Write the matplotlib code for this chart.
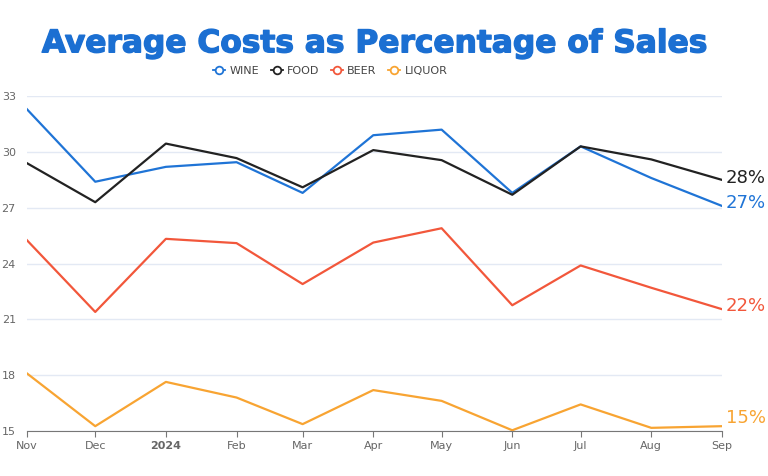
import matplotlib.pyplot as plt
import matplotlib.patheffects as pe
from matplotlib.lines import Line2D
import datetime as dt

# Data
months = [dt.date(2023, 11, 1), dt.date(2023, 12, 1), dt.date(2024, 1, 1),
          dt.date(2024, 2, 1), dt.date(2024, 3, 1), dt.date(2024, 4, 1),
          dt.date(2024, 5, 1), dt.date(2024, 6, 1), dt.date(2024, 7, 1),
          dt.date(2024, 8, 1), dt.date(2024, 9, 1)]
tick_labels = ["Nov", "Dec", "2024", "Feb", "Mar", "Apr", "May", "Jun", "Jul", "Aug", "Sep"]

wine = [32.3, 28.4, 29.2, 29.45, 27.8, 30.9, 31.2, 27.8, 30.3, 28.6, 27.1]
food = [29.4, 27.3, 30.45, 29.67, 28.1, 30.1, 29.56, 27.7, 30.3, 29.6, 28.5]
beer = [25.26, 21.4, 25.33, 25.1, 22.9, 25.13, 25.9, 21.76, 23.9, 22.7, 21.55]
liquor = [18.1, 15.26, 17.64, 16.8, 15.37, 17.2, 16.62, 15.04, 16.43, 15.17, 15.26]

series_names = ["WINE", "FOOD", "BEER", "LIQUOR"]
end_labels = ["27%", "28%", "22%", "15%"]
colors = ["#1f74d6", "#222222", "#f2573b", "#f8a432"]

fig = plt.figure(figsize=(7.68, 4.76), dpi=100)
ax = fig.add_axes([0.035, 0.0945, 0.905, 0.7035])

all_series = [wine, food, beer, liquor]
label_offsets = [2, 1.5, 2, 6]
for vals, c, lab, off in zip(all_series, colors, end_labels, label_offsets):
    ax.plot(months, vals, color=c, lw=1.6)
    ax.annotate(lab, xy=(months[-1], vals[-1]), xytext=(3, off),
                textcoords="offset points", color=c, fontsize=13,
                va="center", ha="left", annotation_clip=False)

ax.set_ylim(15, 33)
ax.set_xlim(months[0], months[-1])
ax.set_yticks([15, 18, 21, 24, 27, 30, 33])
ax.set_xticks(months)
ax.set_xticklabels(tick_labels)
for t in ax.get_xticklabels():
    if t.get_text() == "2024":
        t.set_fontweight("bold")

ax.grid(axis="y", color="#e3e9f4", lw=1)
ax.set_axisbelow(True)
for s in ["top", "right", "left"]:
    ax.spines[s].set_visible(False)
ax.spines["bottom"].set_color("#777777")
ax.tick_params(axis="y", length=0, labelsize=8, labelcolor="#666666", pad=8)
ax.tick_params(axis="x", length=4, color="#777777", labelsize=8, labelcolor="#666666")

fig.text(0.488, 0.908, "Average Costs as Percentage of Sales", ha="center", va="center",
         fontsize=22.5, fontweight="heavy", color="#1b6fd2",
         path_effects=[pe.withStroke(linewidth=1.0, foreground="#1b6fd2")])

handles = [Line2D([0], [0], color=c, lw=1.3, marker="o", markersize=5.5,
                  markerfacecolor="white", markeredgewidth=1.3) for c in colors]
fig.legend(handles, series_names, loc="center", bbox_to_anchor=(0.43, 0.851),
           ncol=4, frameon=False, fontsize=8, labelcolor="#444444",
           handlelength=1.1, handletextpad=0.4, columnspacing=1.0)

fig.savefig("out.png", dpi=100)
